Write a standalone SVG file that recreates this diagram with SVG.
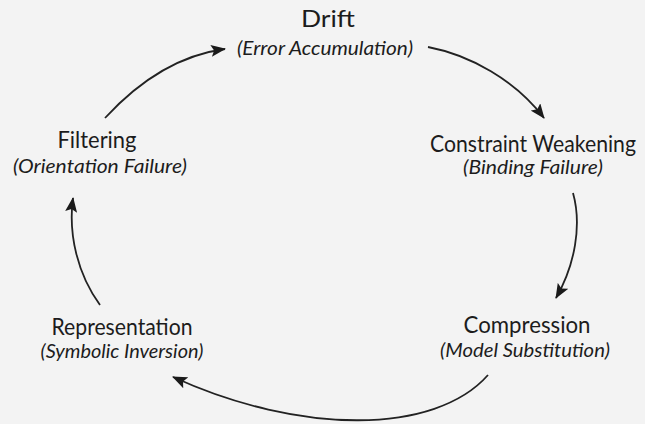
<svg xmlns="http://www.w3.org/2000/svg" width="645" height="424" viewBox="0 0 645 424">
  <style>
    .t { font-family: "Lato", "Noto Sans", sans-serif; fill: #1c1c1c; text-anchor: middle; }
    .h { font-size: 24px; }
    .s { font-size: 20px; font-style: italic; }
    .c { fill: none; stroke: #222; stroke-width: 1.8; marker-end: url(#ah); }
  </style>
  <defs>
    <marker id="ah" markerUnits="userSpaceOnUse" markerWidth="15" markerHeight="12" refX="14" refY="6" orient="auto">
      <path d="M0,0 L15,6 L0,12 L3,6 Z" fill="#1a1a1a"/>
    </marker>
  </defs>
  <rect width="645" height="424" fill="#f3f3f3"/>
  <g id="drift">
    <text class="t h" x="328" y="27" textLength="54" lengthAdjust="spacingAndGlyphs">Drift</text>
    <text class="t s" x="325" y="55" textLength="176" lengthAdjust="spacingAndGlyphs">(Error Accumulation)</text>
  </g>
  <g id="constraint">
    <text class="t h" x="533" y="152" textLength="206" lengthAdjust="spacingAndGlyphs">Constraint Weakening</text>
    <text class="t s" x="533" y="174" textLength="140" lengthAdjust="spacingAndGlyphs">(Binding Failure)</text>
  </g>
  <g id="compression">
    <text class="t h" x="527" y="333" textLength="127" lengthAdjust="spacingAndGlyphs">Compression</text>
    <text class="t s" x="525" y="357" textLength="170" lengthAdjust="spacingAndGlyphs">(Model Substitution)</text>
  </g>
  <g id="representation">
    <text class="t h" x="122" y="335" textLength="141" lengthAdjust="spacingAndGlyphs">Representation</text>
    <text class="t s" x="122" y="358" textLength="163" lengthAdjust="spacingAndGlyphs">(Symbolic Inversion)</text>
  </g>
  <g id="filtering">
    <text class="t h" x="97" y="148" textLength="79" lengthAdjust="spacingAndGlyphs">Filtering</text>
    <text class="t s" x="100" y="173" textLength="174" lengthAdjust="spacingAndGlyphs">(Orientation Failure)</text>
  </g>
  <g id="connectors">
    <path class="c" d="M105,118 C140,80 180,55 225,49"/>
    <path class="c" d="M428,47 C470,55 515,80 544,118"/>
    <path class="c" d="M573,193 C582,225 575,265 556,298"/>
    <path class="c" d="M488,375 C435,435 300,435 173,377"/>
    <path class="c" d="M100,305 C78,275 68,235 73,198"/>
  </g>
</svg>
